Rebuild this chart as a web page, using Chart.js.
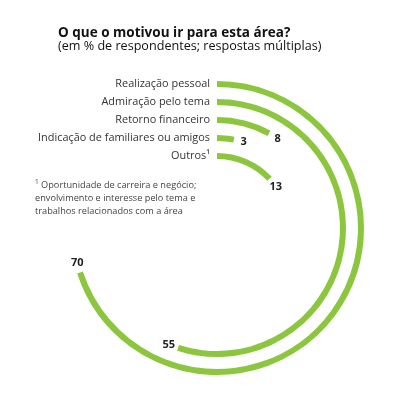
<!DOCTYPE html>
<html lang="pt">
<head>
<meta charset="utf-8">
<script src="https://cdn.jsdelivr.net/npm/chart.js@4.4.0/dist/chart.umd.min.js"></script>
<style>
    body { margin: 0; background: #fff; font-family: "Open Sans", sans-serif; }
    #wrap { position: relative; width: 412px; height: 396px; }
    #chart-box { position: absolute; left: 0; top: 0; width: 412px; height: 396px; }
    .titulo { position: absolute; left: 58px; top: 23px; font-size: 13.5px; font-weight: bold; color: #111; line-height: 18px; white-space: nowrap; }
    .subtitulo { position: absolute; left: 58px; top: 37px; font-size: 12.6px; color: #111; line-height: 18px; white-space: nowrap; }
    .nota { position: absolute; left: 35px; top: 175px; font-size: 9.2px; color: #444; line-height: 13px; }
    .nota sup { font-size: 6.5px; }
</style>
</head>
<body>
<div id="wrap">
    <div id="chart-box"><canvas id="radial-chart"></canvas></div>
    <div class="titulo">O que o motivou ir para esta área?</div>
    <div class="subtitulo">(em % de respondentes; respostas múltiplas)</div>
    <div class="nota"><sup>1</sup> Oportunidade de carreira e negócio;<br>envolvimento e interesse pelo tema e<br>trabalhos relacionados com a área</div>
</div>
<script>
// dados (% de respondentes)
const categorias = ['Realização pessoal', 'Admiração pelo tema', 'Retorno financeiro', 'Indicação de familiares ou amigos', 'Outros¹'];
const valores = [70, 55, 8, 3, 13];

const verde = '#8cc63f';
const vazio = 'rgba(0,0,0,0)';

// um anel por categoria, com anéis vazios entre eles
const datasets = [];
categorias.forEach((cat, i) => {
    if (i > 0) {
        datasets.push({
            label: 'espaco' + i,
            data: [100],
            backgroundColor: [vazio],
            borderWidth: 0,
            weight: 12
        });
    }
    datasets.push({
        label: cat,
        data: [valores[i], 100 - valores[i]],
        backgroundColor: [verde, vazio],
        borderWidth: 0,
        weight: 6,
        isRing: true
    });
});

// rótulos das categorias e dos valores
const rotulosPlugin = {
    id: 'rotulos',
    afterDatasetsDraw(chart) {
        const ctx = chart.ctx;
        ctx.save();
        chart.data.datasets.forEach((ds, di) => {
            if (!ds.isRing) return;
            const arc = chart.getDatasetMeta(di).data[0];
            const r = (arc.outerRadius + arc.innerRadius) / 2;

            // nome da categoria à esquerda do início do anel
            ctx.font = '10.9px "Open Sans"';
            ctx.fillStyle = '#333';
            ctx.textAlign = 'right';
            ctx.textBaseline = 'middle';
            ctx.fillText(ds.label, arc.x - 7, arc.y - r);

            // valor logo depois do fim do arco
            const ang = arc.endAngle + 10 / r;
            const lx = arc.x + r * Math.cos(ang);
            const ly = arc.y + r * Math.sin(ang);
            ctx.font = 'bold 11px "Open Sans"';
            ctx.fillStyle = '#222';
            ctx.textAlign = 'center';
            ctx.fillText(String(ds.data[0]), lx, ly);
        });
        ctx.restore();
    }
};

new Chart(document.getElementById('radial-chart').getContext('2d'), {
    type: 'doughnut',
    data: {
        labels: ['valor', 'resto'],
        datasets: datasets
    },
    options: {
        responsive: true,
        maintainAspectRatio: false,
        animation: false,
        radius: 147,
        cutout: 69,
        layout: {
            padding: { left: 70, right: 48, top: 81, bottom: 21 }
        },
        plugins: {
            legend: { display: false },
            tooltip: { enabled: false }
        },
        events: []
    },
    plugins: [rotulosPlugin]
});
</script>
</body>
</html>
